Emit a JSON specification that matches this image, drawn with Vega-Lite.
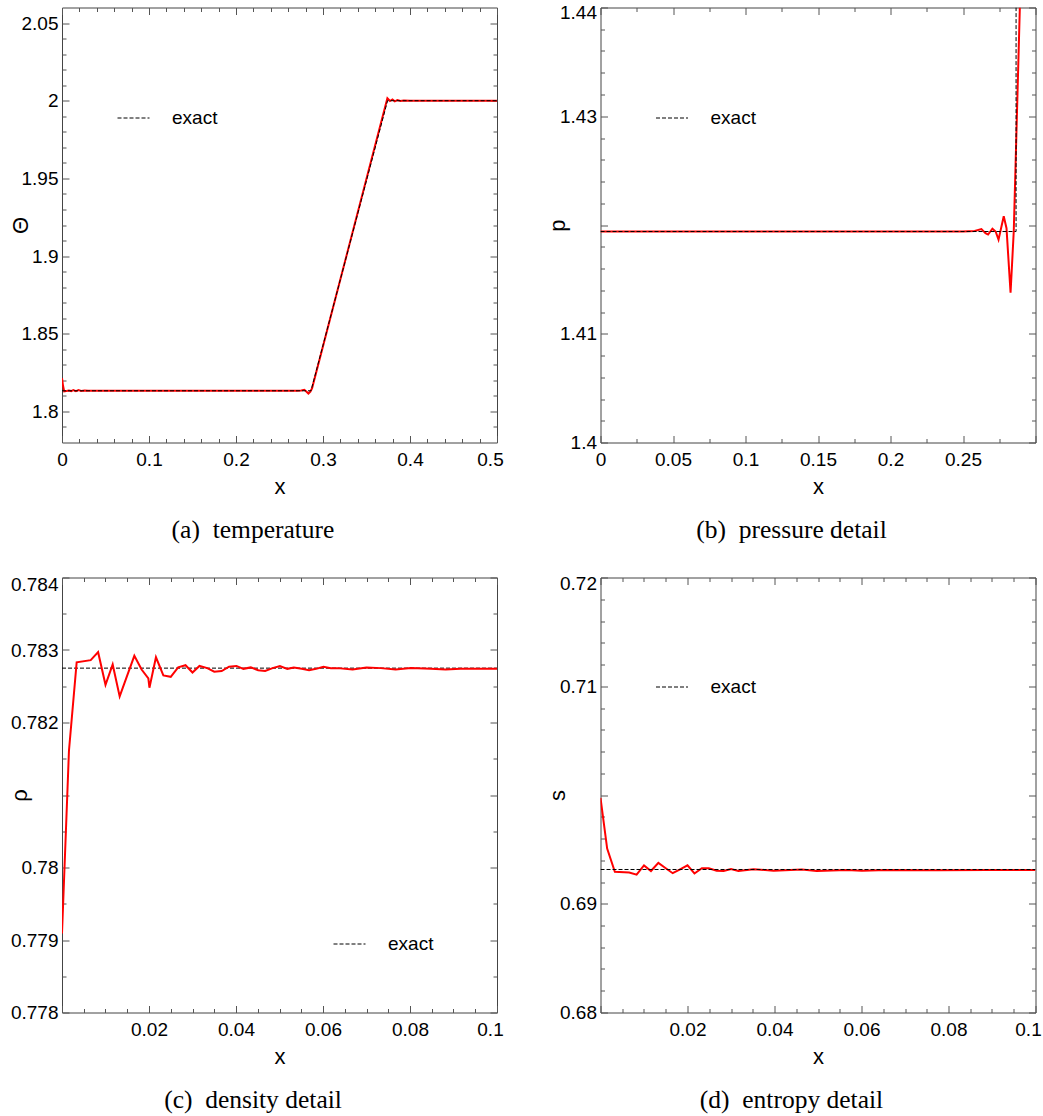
{
  "$schema": "https://vega.github.io/schema/vega-lite/v6.json",
  "padding": {"left": 7, "top": 2.5, "right": 0, "bottom": 0},
  "datasets": {
    "a_num": [{"x":0,"y":1.8214},{"x":0.0012,"y":1.8165},{"x":0.0025,"y":1.8129},{"x":0.005,"y":1.8131},{"x":0.008,"y":1.8134},{"x":0.0105,"y":1.8131},{"x":0.013,"y":1.8138},{"x":0.016,"y":1.8131},{"x":0.019,"y":1.8137},{"x":0.022,"y":1.8132},{"x":0.026,"y":1.8134},{"x":0.03,"y":1.8133},{"x":0.27,"y":1.8133},{"x":0.275,"y":1.8135},{"x":0.2785,"y":1.8139},{"x":0.2808,"y":1.8128},{"x":0.2832,"y":1.8115},{"x":0.2855,"y":1.8128},{"x":0.2875,"y":1.815},{"x":0.374,"y":2.0016},{"x":0.377,"y":1.9998},{"x":0.3798,"y":2.0008},{"x":0.3825,"y":1.9996},{"x":0.3855,"y":2.0004},{"x":0.389,"y":1.9998},{"x":0.3928,"y":2.0001},{"x":0.4,"y":2},{"x":0.5,"y":2}],
    "a_exact": [{"x":0,"y":1.8133,"series":"exact"},{"x":0.2862,"y":1.8133,"series":"exact"},{"x":0.3742,"y":2,"series":"exact"},{"x":0.5,"y":2,"series":"exact"}],
    "b_num": [{"x":0,"y":1.4194},{"x":0.25,"y":1.4194},{"x":0.258,"y":1.41945},{"x":0.2627,"y":1.41962},{"x":0.2655,"y":1.41925},{"x":0.2673,"y":1.41912},{"x":0.2703,"y":1.41966},{"x":0.2725,"y":1.4194},{"x":0.2745,"y":1.41865},{"x":0.2781,"y":1.4208},{"x":0.28,"y":1.4197},{"x":0.2828,"y":1.41377},{"x":0.285,"y":1.4194},{"x":0.2892,"y":1.44}],
    "b_exact": [{"x":0,"y":1.4194,"series":"exact"},{"x":0.2866,"y":1.4194,"series":"exact"},{"x":0.2866,"y":1.44,"series":"exact"}],
    "c_num": [{"x":0,"y":0.77909},{"x":0.0016,"y":0.78161},{"x":0.00337,"y":0.78283},{"x":0.0066,"y":0.78286},{"x":0.0083,"y":0.78297},{"x":0.01,"y":0.78252},{"x":0.01165,"y":0.7828},{"x":0.01326,"y":0.78236},{"x":0.015,"y":0.78265},{"x":0.01663,"y":0.78292},{"x":0.0183,"y":0.78273},{"x":0.01985,"y":0.78261},{"x":0.0201,"y":0.78248},{"x":0.0216,"y":0.7829},{"x":0.0233,"y":0.78265},{"x":0.025,"y":0.78263},{"x":0.0267,"y":0.78276},{"x":0.0284,"y":0.78279},{"x":0.03,"y":0.78269},{"x":0.0316,"y":0.78278},{"x":0.0334,"y":0.78275},{"x":0.035,"y":0.7827},{"x":0.0367,"y":0.78271},{"x":0.0384,"y":0.78277},{"x":0.0401,"y":0.78278},{"x":0.0417,"y":0.78274},{"x":0.0434,"y":0.78276},{"x":0.0451,"y":0.78272},{"x":0.0467,"y":0.78271},{"x":0.0484,"y":0.78275},{"x":0.0501,"y":0.78278},{"x":0.0518,"y":0.78274},{"x":0.0533,"y":0.78276},{"x":0.0551,"y":0.78274},{"x":0.0568,"y":0.78272},{"x":0.0584,"y":0.78274},{"x":0.0601,"y":0.78277},{"x":0.0618,"y":0.78275},{"x":0.0634,"y":0.78275},{"x":0.0668,"y":0.78273},{"x":0.07,"y":0.78276},{"x":0.0733,"y":0.78275},{"x":0.0767,"y":0.78273},{"x":0.0802,"y":0.78275},{"x":0.0848,"y":0.78274},{"x":0.0882,"y":0.78273},{"x":0.0916,"y":0.78274},{"x":0.1,"y":0.78274}],
    "c_exact": [{"x":0,"y":0.78275,"series":"exact"},{"x":0.1,"y":0.78275,"series":"exact"}],
    "d_num": [{"x":0,"y":0.69974},{"x":0.00153,"y":0.69507},{"x":0.0033,"y":0.69294},{"x":0.0066,"y":0.69288},{"x":0.0083,"y":0.69268},{"x":0.01,"y":0.69353},{"x":0.0116,"y":0.69301},{"x":0.0133,"y":0.69376},{"x":0.015,"y":0.69327},{"x":0.0166,"y":0.69281},{"x":0.0183,"y":0.69317},{"x":0.02,"y":0.69353},{"x":0.0216,"y":0.69278},{"x":0.0233,"y":0.69327},{"x":0.0249,"y":0.69327},{"x":0.0267,"y":0.69304},{"x":0.0283,"y":0.69301},{"x":0.03,"y":0.6932},{"x":0.0317,"y":0.69301},{"x":0.0352,"y":0.69317},{"x":0.0398,"y":0.69304},{"x":0.0463,"y":0.69314},{"x":0.0497,"y":0.69301},{"x":0.0566,"y":0.6931},{"x":0.0601,"y":0.69304},{"x":0.0658,"y":0.6931},{"x":0.0774,"y":0.69307},{"x":0.0889,"y":0.6931},{"x":0.1,"y":0.6931}],
    "d_exact": [{"x":0,"y":0.69315,"series":"exact"},{"x":0.1,"y":0.69315,"series":"exact"}]
  },
  "spacing": 30,
  "resolve": {"scale": {"strokeDash": "independent"}, "legend": {"strokeDash": "independent"}},
  "vconcat": [
    {
      "spacing": 41.5,
      "resolve": {"scale": {"strokeDash": "independent"}, "legend": {"strokeDash": "independent"}},
      "hconcat": [
        {
          "width": 435, "height": 435,
          "title": {"text": "(a)\u00a0\u00a0temperature"},
          "resolve": {"axis": {"x": "independent", "y": "independent"}},
          "layer": [
            {"data": {"name": "a_num"}, "mark": {"type": "line", "color": "#ff0000", "strokeWidth": 2, "clip": true},
             "encoding": {
               "x": {"field": "x", "type": "quantitative", "scale": {"domain": [0, 0.5], "nice": false, "zero": false},
                     "axis": {"orient": "bottom", "values": [0,0.1,0.2,0.3,0.4,0.5], "format": "~g", "ticks": false, "labelBaseline": "alphabetic", "labelPadding": 22.5, "labelOffset": {"condition": {"test": "datum.value >= 0.5", "value": -7}, "value": 0}, "title": "x", "titleX": 217.5, "titleY": 51, "titleBaseline": "alphabetic", "titleAlign": "center", "titleAngle": 0}},
               "y": {"field": "y", "type": "quantitative", "scale": {"domain": [1.78, 2.06], "nice": false, "zero": false},
                     "axis": {"orient": "left", "values": [1.8,1.85,1.9,1.95,2,2.05], "format": "~g", "ticks": false, "labelPadding": 4, "title": "Θ", "titleX": -35, "titleY": 217.5, "titleBaseline": "alphabetic", "titleAlign": "center", "titleAngle": -90}},
               "order": {"value": null}}},
            {"data": {"name": "a_exact"}, "mark": {"type": "line", "color": "#000000", "strokeWidth": 1, "clip": true},
             "encoding": {
               "x": {"field": "x", "type": "quantitative", "axis": null},
               "y": {"field": "y", "type": "quantitative", "axis": null},
               "strokeDash": {"field": "series", "type": "nominal", "scale": {"range": [[4, 2]]},
                 "legend": {"orient": "none", "legendX": 55, "legendY": 94, "title": null, "symbolType": "stroke", "symbolSize": 1024, "symbolStrokeWidth": 1, "symbolStrokeColor": "#000000", "labelOffset": 22, "labelFont": "Liberation Sans", "labelFontSize": 19, "labelColor": "#000000", "padding": 0}},
               "order": {"value": null}}},
            {"data": {"name": "a_exact"}, "mark": {"type": "line", "opacity": 0},
             "encoding": {
               "x": {"field": "x", "type": "quantitative", "axis": {"orient": "bottom", "values": [0,0.1,0.2,0.3,0.4,0.5], "tickSize": -7, "labels": false, "title": null}},
               "y": {"field": "y", "type": "quantitative", "axis": {"orient": "left", "values": [1.8,1.85,1.9,1.95,2,2.05], "tickSize": -7, "labels": false, "title": null}}}},
            {"data": {"name": "a_exact"}, "mark": {"type": "line", "opacity": 0},
             "encoding": {
               "x": {"field": "x", "type": "quantitative", "axis": {"orient": "top", "values": [0,0.1,0.2,0.3,0.4,0.5], "tickSize": -7, "labels": false, "title": null}},
               "y": {"field": "y", "type": "quantitative", "axis": {"orient": "right", "values": [1.8,1.85,1.9,1.95,2,2.05], "tickSize": -7, "labels": false, "title": null}}}},
            {"data": {"name": "a_exact"}, "mark": {"type": "line", "opacity": 0},
             "encoding": {
               "x": {"field": "x", "type": "quantitative", "axis": {"orient": "bottom", "values": [0.02,0.04,0.06,0.08,0.12,0.14,0.16,0.18,0.22,0.24,0.26,0.28,0.32,0.34,0.36,0.38,0.42,0.44,0.46,0.48], "tickSize": -4, "labels": false, "title": null}},
               "y": {"field": "y", "type": "quantitative", "axis": {"orient": "left", "values": [1.79,1.81,1.82,1.83,1.84,1.86,1.87,1.88,1.89,1.91,1.92,1.93,1.94,1.96,1.97,1.98,1.99,2.01,2.02,2.03,2.04], "tickSize": -4, "labels": false, "title": null}}}},
            {"data": {"name": "a_exact"}, "mark": {"type": "line", "opacity": 0},
             "encoding": {
               "x": {"field": "x", "type": "quantitative", "axis": {"orient": "top", "values": [0.02,0.04,0.06,0.08,0.12,0.14,0.16,0.18,0.22,0.24,0.26,0.28,0.32,0.34,0.36,0.38,0.42,0.44,0.46,0.48], "tickSize": -4, "labels": false, "title": null}},
               "y": {"field": "y", "type": "quantitative", "axis": {"orient": "right", "values": [1.79,1.81,1.82,1.83,1.84,1.86,1.87,1.88,1.89,1.91,1.92,1.93,1.94,1.96,1.97,1.98,1.99,2.01,2.02,2.03,2.04], "tickSize": -4, "labels": false, "title": null}}}}
          ]
        },
        {
          "width": 435, "height": 435,
          "title": {"text": "(b)\u00a0\u00a0pressure detail"},
          "resolve": {"axis": {"x": "independent", "y": "independent"}},
          "layer": [
            {"data": {"name": "b_num"}, "mark": {"type": "line", "color": "#ff0000", "strokeWidth": 2, "clip": true},
             "encoding": {
               "x": {"field": "x", "type": "quantitative", "scale": {"domain": [0, 0.3], "nice": false, "zero": false},
                     "axis": {"orient": "bottom", "values": [0,0.05,0.1,0.15,0.2,0.25], "format": "~g", "ticks": false, "labelBaseline": "alphabetic", "labelPadding": 22.5, "title": "x", "titleX": 217.5, "titleY": 51, "titleBaseline": "alphabetic", "titleAlign": "center", "titleAngle": 0}},
               "y": {"field": "y", "type": "quantitative", "scale": {"domain": [1.4, 1.44], "nice": false, "zero": false},
                     "axis": {"orient": "left", "values": [1.4,1.41,1.43,1.44], "format": "~g", "ticks": false, "labelPadding": 4, "labelOffset": {"condition": {"test": "datum.value >= 1.44", "value": 4.5}, "value": 0}, "title": "p", "titleX": -36, "titleY": 217.5, "titleBaseline": "alphabetic", "titleAlign": "center", "titleAngle": -90}},
               "order": {"value": null}}},
            {"data": {"name": "b_exact"}, "mark": {"type": "line", "color": "#000000", "strokeWidth": 1, "clip": true},
             "encoding": {
               "x": {"field": "x", "type": "quantitative", "axis": null},
               "y": {"field": "y", "type": "quantitative", "axis": null},
               "strokeDash": {"field": "series", "type": "nominal", "scale": {"range": [[4, 2]]},
                 "legend": {"orient": "none", "legendX": 55, "legendY": 94, "title": null, "symbolType": "stroke", "symbolSize": 1024, "symbolStrokeWidth": 1, "symbolStrokeColor": "#000000", "labelOffset": 22, "labelFont": "Liberation Sans", "labelFontSize": 19, "labelColor": "#000000", "padding": 0}},
               "order": {"value": null}}},
            {"data": {"name": "b_exact"}, "mark": {"type": "line", "opacity": 0},
             "encoding": {
               "x": {"field": "x", "type": "quantitative", "axis": {"orient": "bottom", "values": [0,0.05,0.1,0.15,0.2,0.25,0.3], "tickSize": -7, "labels": false, "title": null}},
               "y": {"field": "y", "type": "quantitative", "axis": {"orient": "left", "values": [1.4,1.41,1.42,1.43,1.44], "tickSize": -7, "labels": false, "title": null}}}},
            {"data": {"name": "b_exact"}, "mark": {"type": "line", "opacity": 0},
             "encoding": {
               "x": {"field": "x", "type": "quantitative", "axis": {"orient": "top", "values": [0,0.05,0.1,0.15,0.2,0.25,0.3], "tickSize": -7, "labels": false, "title": null}},
               "y": {"field": "y", "type": "quantitative", "axis": {"orient": "right", "values": [1.4,1.41,1.42,1.43,1.44], "tickSize": -7, "labels": false, "title": null}}}},
            {"data": {"name": "b_exact"}, "mark": {"type": "line", "opacity": 0},
             "encoding": {
               "x": {"field": "x", "type": "quantitative", "axis": {"orient": "bottom", "values": [0.025,0.075,0.125,0.175,0.225,0.275], "tickSize": -4, "labels": false, "title": null}},
               "y": {"field": "y", "type": "quantitative", "axis": {"orient": "left", "values": [1.402,1.404,1.406,1.408,1.412,1.414,1.416,1.418,1.422,1.424,1.426,1.428,1.432,1.434,1.436,1.438], "tickSize": -4, "labels": false, "title": null}}}},
            {"data": {"name": "b_exact"}, "mark": {"type": "line", "opacity": 0},
             "encoding": {
               "x": {"field": "x", "type": "quantitative", "axis": {"orient": "top", "values": [0.025,0.075,0.125,0.175,0.225,0.275], "tickSize": -4, "labels": false, "title": null}},
               "y": {"field": "y", "type": "quantitative", "axis": {"orient": "right", "values": [1.402,1.404,1.406,1.408,1.412,1.414,1.416,1.418,1.422,1.424,1.426,1.428,1.432,1.434,1.436,1.438], "tickSize": -4, "labels": false, "title": null}}}}
          ]
        }
      ]
    },
    {
      "spacing": 41.5,
      "resolve": {"scale": {"strokeDash": "independent"}, "legend": {"strokeDash": "independent"}},
      "hconcat": [
        {
          "width": 435, "height": 435,
          "title": {"text": "(c)\u00a0\u00a0density detail"},
          "resolve": {"axis": {"x": "independent", "y": "independent"}},
          "layer": [
            {"data": {"name": "c_exact"}, "mark": {"type": "line", "color": "#000000", "strokeWidth": 1, "clip": true},
             "encoding": {
               "x": {"field": "x", "type": "quantitative", "axis": null, "scale": {"domain": [0, 0.1], "nice": false, "zero": false}},
               "y": {"field": "y", "type": "quantitative", "axis": null, "scale": {"domain": [0.778, 0.784], "nice": false, "zero": false}},
               "strokeDash": {"field": "series", "type": "nominal", "scale": {"range": [[4, 2]]},
                 "legend": {"orient": "none", "legendX": 271, "legendY": 350, "title": null, "symbolType": "stroke", "symbolSize": 1024, "symbolStrokeWidth": 1, "symbolStrokeColor": "#000000", "labelOffset": 22, "labelFont": "Liberation Sans", "labelFontSize": 19, "labelColor": "#000000", "padding": 0}},
               "order": {"value": null}}},
            {"data": {"name": "c_num"}, "mark": {"type": "line", "color": "#ff0000", "strokeWidth": 2, "clip": true},
             "encoding": {
               "x": {"field": "x", "type": "quantitative",
                     "axis": {"orient": "bottom", "values": [0.02,0.04,0.06,0.08,0.1], "format": "~g", "ticks": false, "labelBaseline": "alphabetic", "labelPadding": 22.5, "labelOffset": {"condition": {"test": "datum.value >= 0.1", "value": -7}, "value": 0}, "title": "x", "titleX": 217.5, "titleY": 51, "titleBaseline": "alphabetic", "titleAlign": "center", "titleAngle": 0}},
               "y": {"field": "y", "type": "quantitative",
                     "axis": {"orient": "left", "values": [0.778,0.779,0.78,0.782,0.783,0.784], "format": "~g", "ticks": false, "labelPadding": 4, "labelOffset": {"condition": {"test": "datum.value >= 0.784", "value": 7}, "value": 0}, "title": "ρ", "titleX": -36, "titleY": 217.5, "titleBaseline": "alphabetic", "titleAlign": "center", "titleAngle": -90}},
               "order": {"value": null}}},
            {"data": {"name": "c_exact"}, "mark": {"type": "line", "opacity": 0},
             "encoding": {
               "x": {"field": "x", "type": "quantitative", "axis": {"orient": "bottom", "values": [0,0.02,0.04,0.06,0.08,0.1], "tickSize": -7, "labels": false, "title": null}},
               "y": {"field": "y", "type": "quantitative", "axis": {"orient": "left", "values": [0.778,0.779,0.78,0.781,0.782,0.783,0.784], "tickSize": -7, "labels": false, "title": null}}}},
            {"data": {"name": "c_exact"}, "mark": {"type": "line", "opacity": 0},
             "encoding": {
               "x": {"field": "x", "type": "quantitative", "axis": {"orient": "top", "values": [0,0.02,0.04,0.06,0.08,0.1], "tickSize": -7, "labels": false, "title": null}},
               "y": {"field": "y", "type": "quantitative", "axis": {"orient": "right", "values": [0.778,0.779,0.78,0.781,0.782,0.783,0.784], "tickSize": -7, "labels": false, "title": null}}}},
            {"data": {"name": "c_exact"}, "mark": {"type": "line", "opacity": 0},
             "encoding": {
               "x": {"field": "x", "type": "quantitative", "axis": {"orient": "bottom", "values": [0.005,0.01,0.015,0.025,0.03,0.035,0.045,0.05,0.055,0.065,0.07,0.075,0.085,0.09,0.095], "tickSize": -4, "labels": false, "title": null}},
               "y": {"field": "y", "type": "quantitative", "axis": {"orient": "left", "values": [0.7785,0.7795,0.7805,0.7815,0.7825,0.7835], "tickSize": -4, "labels": false, "title": null}}}},
            {"data": {"name": "c_exact"}, "mark": {"type": "line", "opacity": 0},
             "encoding": {
               "x": {"field": "x", "type": "quantitative", "axis": {"orient": "top", "values": [0.005,0.01,0.015,0.025,0.03,0.035,0.045,0.05,0.055,0.065,0.07,0.075,0.085,0.09,0.095], "tickSize": -4, "labels": false, "title": null}},
               "y": {"field": "y", "type": "quantitative", "axis": {"orient": "right", "values": [0.7785,0.7795,0.7805,0.7815,0.7825,0.7835], "tickSize": -4, "labels": false, "title": null}}}}
          ]
        },
        {
          "width": 435, "height": 435,
          "title": {"text": "(d)\u00a0\u00a0entropy detail"},
          "resolve": {"axis": {"x": "independent", "y": "independent"}},
          "layer": [
            {"data": {"name": "d_num"}, "mark": {"type": "line", "color": "#ff0000", "strokeWidth": 2, "clip": true},
             "encoding": {
               "x": {"field": "x", "type": "quantitative", "scale": {"domain": [0, 0.1], "nice": false, "zero": false},
                     "axis": {"orient": "bottom", "values": [0.02,0.04,0.06,0.08,0.1], "format": "~g", "ticks": false, "labelBaseline": "alphabetic", "labelPadding": 22.5, "labelOffset": {"condition": {"test": "datum.value >= 0.1", "value": -7.5}, "value": 0}, "title": "x", "titleX": 217.5, "titleY": 51, "titleBaseline": "alphabetic", "titleAlign": "center", "titleAngle": 0}},
               "y": {"field": "y", "type": "quantitative", "scale": {"domain": [0.68, 0.72], "nice": false, "zero": false},
                     "axis": {"orient": "left", "values": [0.68,0.69,0.71,0.72], "format": "~g", "ticks": false, "labelPadding": 4, "labelOffset": {"condition": {"test": "datum.value >= 0.72", "value": 6}, "value": 0}, "title": "s", "titleX": -36, "titleY": 217.5, "titleBaseline": "alphabetic", "titleAlign": "center", "titleAngle": -90}},
               "order": {"value": null}}},
            {"data": {"name": "d_exact"}, "mark": {"type": "line", "color": "#000000", "strokeWidth": 1, "clip": true},
             "encoding": {
               "x": {"field": "x", "type": "quantitative", "axis": null},
               "y": {"field": "y", "type": "quantitative", "axis": null},
               "strokeDash": {"field": "series", "type": "nominal", "scale": {"range": [[4, 2]]},
                 "legend": {"orient": "none", "legendX": 55, "legendY": 93, "title": null, "symbolType": "stroke", "symbolSize": 1024, "symbolStrokeWidth": 1, "symbolStrokeColor": "#000000", "labelOffset": 22, "labelFont": "Liberation Sans", "labelFontSize": 19, "labelColor": "#000000", "padding": 0}},
               "order": {"value": null}}},
            {"data": {"name": "d_exact"}, "mark": {"type": "line", "opacity": 0},
             "encoding": {
               "x": {"field": "x", "type": "quantitative", "axis": {"orient": "bottom", "values": [0,0.02,0.04,0.06,0.08,0.1], "tickSize": -7, "labels": false, "title": null}},
               "y": {"field": "y", "type": "quantitative", "axis": {"orient": "left", "values": [0.68,0.69,0.7,0.71,0.72], "tickSize": -7, "labels": false, "title": null}}}},
            {"data": {"name": "d_exact"}, "mark": {"type": "line", "opacity": 0},
             "encoding": {
               "x": {"field": "x", "type": "quantitative", "axis": {"orient": "top", "values": [0,0.02,0.04,0.06,0.08,0.1], "tickSize": -7, "labels": false, "title": null}},
               "y": {"field": "y", "type": "quantitative", "axis": {"orient": "right", "values": [0.68,0.69,0.7,0.71,0.72], "tickSize": -7, "labels": false, "title": null}}}},
            {"data": {"name": "d_exact"}, "mark": {"type": "line", "opacity": 0},
             "encoding": {
               "x": {"field": "x", "type": "quantitative", "axis": {"orient": "bottom", "values": [0.005,0.01,0.015,0.025,0.03,0.035,0.045,0.05,0.055,0.065,0.07,0.075,0.085,0.09,0.095], "tickSize": -4, "labels": false, "title": null}},
               "y": {"field": "y", "type": "quantitative", "axis": {"orient": "left", "values": [0.682,0.684,0.686,0.688,0.692,0.694,0.696,0.698,0.702,0.704,0.706,0.708,0.712,0.714,0.716,0.718], "tickSize": -4, "labels": false, "title": null}}}},
            {"data": {"name": "d_exact"}, "mark": {"type": "line", "opacity": 0},
             "encoding": {
               "x": {"field": "x", "type": "quantitative", "axis": {"orient": "top", "values": [0.005,0.01,0.015,0.025,0.03,0.035,0.045,0.05,0.055,0.065,0.07,0.075,0.085,0.09,0.095], "tickSize": -4, "labels": false, "title": null}},
               "y": {"field": "y", "type": "quantitative", "axis": {"orient": "right", "values": [0.682,0.684,0.686,0.688,0.692,0.694,0.696,0.698,0.702,0.704,0.706,0.708,0.712,0.714,0.716,0.718], "tickSize": -4, "labels": false, "title": null}}}}
          ]
        }
      ]
    }
  ],
  "config": {
    "view": {"stroke": "#444444", "strokeWidth": 1},
    "axis": {"domain": false, "grid": false, "labelFont": "Liberation Sans", "labelFontSize": 19, "labelColor": "#000000", "titleFont": "Liberation Sans", "titleFontSize": 22, "titleFontWeight": "normal", "titleColor": "#000000", "tickColor": "#555555", "tickWidth": 1, "labelFlush": false, "labelOverlap": false},
    "title": {"orient": "bottom", "font": "Liberation Serif", "fontSize": 25.5, "fontWeight": "normal", "color": "#000000", "offset": 20, "anchor": "middle", "dx": -26.5}
  }
}
